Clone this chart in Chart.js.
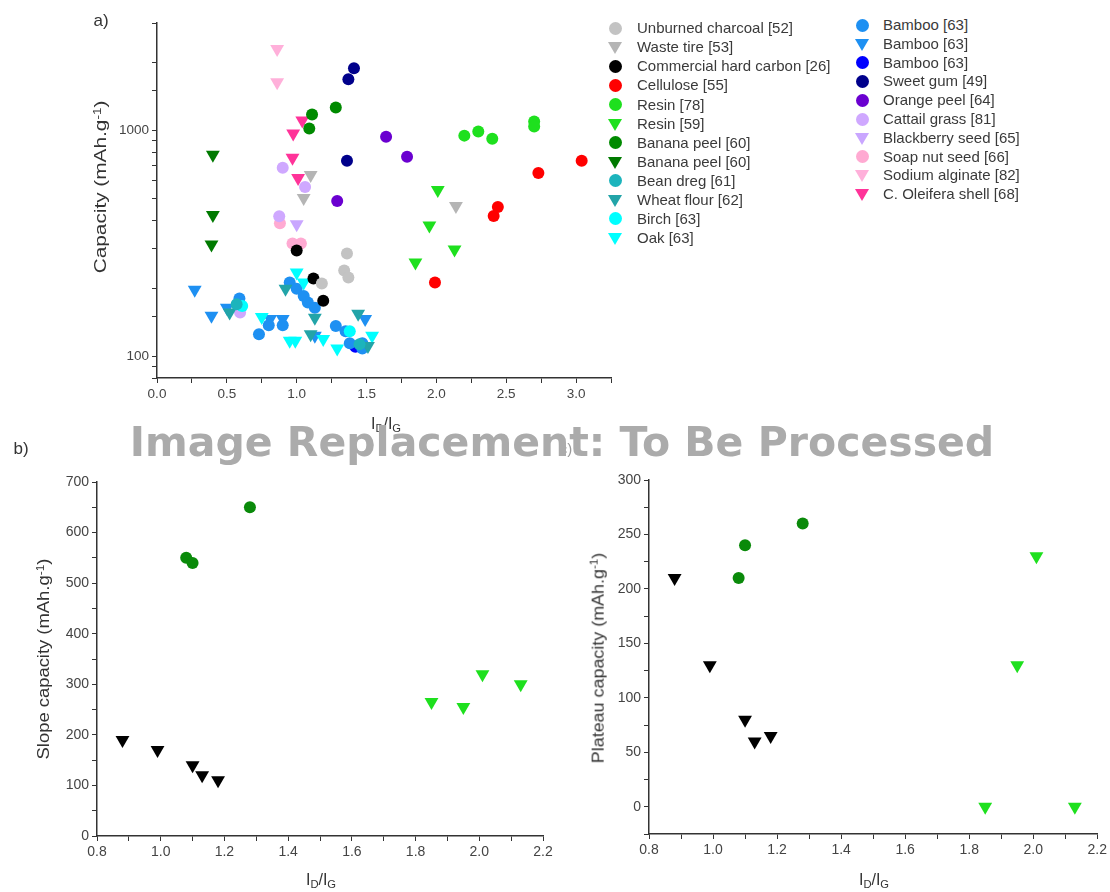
<!DOCTYPE html>
<html><head><meta charset="utf-8">
<script src="https://cdn.jsdelivr.net/npm/chart.js@4.4.1/dist/chart.umd.min.js"></script>
<style>
html,body{margin:0;padding:0;background:#fff}
body{position:relative;width:1110px;height:892px;overflow:hidden;font-family:"Liberation Sans",Arial,sans-serif;color:#333}
canvas{position:absolute}
.t{position:absolute;white-space:nowrap;line-height:1}
.lg{position:absolute;white-space:nowrap;font-size:15px;line-height:15px;color:#3a3a3a}
.mk{position:absolute}
sub{font-size:70%;vertical-align:-0.25em}
sup{font-size:65%;vertical-align:0.55em}
</style></head>
<body>
<canvas id="cA" width="620" height="440" style="left:0;top:0"></canvas>
<canvas id="cB" width="560" height="452" style="left:0;top:440px"></canvas>
<canvas id="cC" width="550" height="452" style="left:560px;top:440px"></canvas>
<div id="legend"></div>
<div id="texts"></div>
<script>
// ---------- data: panel a (I_D/I_G, capacity mAh/g) ----------
const unburnedCharcoal = [[1.36,285],[1.34,240],[1.37,223],[1.18,210]];
const wasteTire = [[1.10,636],[1.05,502],[2.14,463]];
const commercialHardCarbon = [[1.00,294],[1.12,221],[1.19,176]];
const cellulose = [[3.04,735],[2.73,649],[2.44,458],[2.41,418],[1.99,212]];
const resin78 = [[2.20,950],[2.30,990],[2.40,921],[2.70,1097],[2.70,1042]];
const resin59 = [[2.01,545],[1.95,380],[2.13,297],[1.85,260]];
const bananaPeelCircle = [[1.11,1179],[1.28,1267],[1.09,1021]];
const bananaPeelTriangle = [[0.40,781],[0.40,422],[0.39,313]];
const beanDreg = [[0.57,170],[1.45,113]];
const wheatFlour = [[0.52,156],[0.92,199],[1.13,148],[1.44,154],[1.51,111],[1.10,125]];
const birch = [[0.61,167],[1.38,129]];
const oak = [[0.75,149],[1.00,235],[1.05,212],[0.99,117],[1.19,119],[1.29,108],[1.54,123],[0.95,117]];
const bambooCircle = [[0.59,180],[0.73,125],[0.80,137],[0.90,137],[0.95,212],[1.00,199],[1.05,185],[1.08,173],[1.13,164],[1.28,136],[1.35,129],[1.38,114],[1.47,114],[1.47,108]];
const bambooTriangle = [[0.27,197],[0.39,151],[0.50,164],[0.81,146],[0.90,146],[1.13,123],[1.49,146]];
const bambooBlue = [[1.42,110]];
const sweetGum = [[1.41,1892],[1.37,1690],[1.36,735]];
const orangePeel = [[1.64,940],[1.79,765],[1.29,487]];
const cattailGrass = [[0.90,684],[1.06,562],[0.875,417],[0.595,156]];
const blackberrySeed = [[1.00,384]];
const soapNutSeed = [[0.88,388],[0.97,316],[1.03,316]];
const sodiumAlginate = [[0.86,2299],[0.86,1638]];
const oleiferaShell = [[1.04,1108],[0.975,970],[0.97,758],[1.01,617]];

const seriesNames = ['Unburned charcoal [52]','Waste tire [53]','Commercial hard carbon [26]','Cellulose [55]','Resin [78]','Resin [59]','Banana peel [60]','Banana peel [60]','Bean dreg [61]','Wheat flour [62]','Birch [63]','Oak [63]','Bamboo [63]','Bamboo [63]','Bamboo [63]','Sweet gum [49]','Orange peel [64]','Cattail grass [81]','Blackberry seed [65]','Soap nut seed [66]','Sodium alginate [82]','C. Oleifera shell [68]'];
const seriesPoints = [unburnedCharcoal,wasteTire,commercialHardCarbon,cellulose,resin78,resin59,bananaPeelCircle,bananaPeelTriangle,beanDreg,wheatFlour,birch,oak,bambooCircle,bambooTriangle,bambooBlue,sweetGum,orangePeel,cattailGrass,blackberrySeed,soapNutSeed,sodiumAlginate,oleiferaShell];

// ---------- data: panels b, c ----------
const slopeHardCarbon = [[0.88,190],[0.99,170],[1.10,140],[1.13,120],[1.18,110]];
const slopeBananaPeel = [[1.08,550],[1.10,540],[1.28,650]];
const slopeResin = [[1.85,265],[1.95,255],[2.01,320],[2.13,300]];
const plateauHardCarbon = [[0.88,210],[0.99,130],[1.10,80],[1.13,60],[1.18,65]];
const plateauBananaPeel = [[1.08,210],[1.10,240],[1.28,260]];
const plateauResin = [[1.85,0],[1.95,130],[2.01,230],[2.13,0]];

// ---------- styles ----------
const seriesColors = ['#c3c3c3','#b5b5b5','#000000','#ff0000','#1ee01e','#1ee01e','#008a00','#007a00','#1cb4bc','#22a4a8','#00ffff','#00ffff','#1e90f2','#1e90f2','#0000ff','#00008b','#6a00d0','#cfa8ff','#c9a6ff','#ffaad2','#ffb0da','#ff3399'];
const seriesShapes = ['c','t','c','c','c','t','c','t','c','t','c','t','c','t','c','c','c','c','t','c','t','t'];

const AX = '#333';
function toXY(arr){ return arr.map(p => ({x:p[0], y:p[1]})); }
function ds(label, arr, color, shape){
  return {label, data: toXY(arr), backgroundColor: color, borderColor: color, borderWidth: 0,
    pointStyle: shape==='c' ? 'circle' : 'triangle', pointRotation: shape==='c' ? 0 : 180,
    pointRadius: shape==='c' ? 6 : 8, pointHoverRadius: shape==='c' ? 6 : 8};
}
const common = {responsive:false, animation:false, events:[],
  plugins:{legend:{display:false}, tooltip:{enabled:false}}};
function axisStyle(){
  return {grid:{drawOnChartArea:false, drawTicks:true, tickLength:5, color:AX, tickColor:AX},
    border:{display:true, color:AX, width:1.5}};
}

// Panel a
new Chart(document.getElementById('cA'), {
  type:'scatter',
  data:{datasets: seriesPoints.map((p,i)=>ds(seriesNames[i], p, seriesColors[i], seriesShapes[i]))},
  options:Object.assign({}, common, {
    layout:{padding:{top:23, right:9, left:0, bottom:0}},
    scales:{
      x:Object.assign(axisStyle(), {type:'linear', min:0, max:3.25,
        afterFit:s=>{s.height=62;},
        ticks:{stepSize:0.25, autoSkip:false, maxRotation:0, color:'#444', font:{size:13.5, family:'Liberation Sans'}, padding:3,
          callback:v=>Math.abs(v*2-Math.round(v*2))<1e-6 ? v.toFixed(1) : ''}}),
      y:Object.assign(axisStyle(), {type:'logarithmic', min:80, max:3000,
        afterFit:s=>{s.width=157;},
        ticks:{autoSkip:false, color:'#444', font:{size:13.5, family:'Liberation Sans'}, padding:3,
          callback:v=>(v===100||v===1000) ? String(v) : ''}})
    }
  })
});

function bottomChart(id, sets, yMin, yMax, yStep, yLabelStep, yWidth, xHeight, padTop, padRight){
  return new Chart(document.getElementById(id), {
    type:'scatter',
    data:{datasets: sets},
    options:Object.assign({}, common, {
      layout:{padding:{top:padTop, right:padRight, left:0, bottom:0}},
      scales:{
        x:Object.assign(axisStyle(), {type:'linear', min:0.8, max:2.2,
          afterFit:s=>{s.height=xHeight;},
          ticks:{stepSize:0.1, autoSkip:false, maxRotation:0, color:'#444', font:{size:14, family:'Liberation Sans'}, padding:3,
            callback:v=>Math.round(v*10)%2===0 ? v.toFixed(1) : ''}}),
        y:Object.assign(axisStyle(), {type:'linear', min:yMin, max:yMax,
          afterFit:s=>{s.width=yWidth;},
          ticks:{stepSize:yStep, autoSkip:false, color:'#444', font:{size:14, family:'Liberation Sans'}, padding:3,
            callback:v=>(v>=0 && Math.round(v)%yLabelStep===0) ? String(Math.round(v)) : ''}})
      }
    })
  });
}
bottomChart('cB', [
  ds('Hard carbon', slopeHardCarbon, '#000000', 't'),
  ds('Banana peel', slopeBananaPeel, '#0a8a0a', 'c'),
  ds('Resin', slopeResin, '#1ee01e', 't')
], 0, 700, 50, 100, 97, 56, 42, 17);
bottomChart('cC', [
  ds('Hard carbon', plateauHardCarbon, '#000000', 't'),
  ds('Banana peel', plateauBananaPeel, '#0a8a0a', 'c'),
  ds('Resin', plateauResin, '#1ee01e', 't')
], -25, 300, 25, 50, 89, 58, 40, 12);

// ---------- legend (built from series) ----------
const lg = document.getElementById('legend');
seriesNames.forEach((name,i)=>{
  const col = i < 12 ? 0 : 1;
  const row = col===0 ? i : i-12;
  const cy = col===0 ? 28.3 + row*19.05 : 25 + row*18.8;
  const mx = col===0 ? 615 : 862;
  const tx = col===0 ? 637 : 883;
  const m = document.createElement('div');
  m.className='mk';
  if (seriesShapes[i]==='c'){
    m.style.cssText = `left:${mx-6.5}px;top:${cy-6.5}px;width:13px;height:13px;border-radius:50%;background:${seriesColors[i]}`;
  } else {
    m.style.cssText = `left:${mx-7}px;top:${cy-5}px;width:0;height:0;border-left:7px solid transparent;border-right:7px solid transparent;border-top:12px solid ${seriesColors[i]}`;
  }
  lg.appendChild(m);
  const t = document.createElement('div');
  t.className='lg';
  t.style.left = tx+'px'; t.style.top = (cy-8)+'px';
  t.textContent = name;
  lg.appendChild(t);
});

// ---------- texts ----------
const tx = document.getElementById('texts');
function addText(html, cx, cy, size, extra){
  const d = document.createElement('div');
  d.className='t';
  d.innerHTML = html;
  d.style.left = cx+'px'; d.style.top = cy+'px';
  d.style.fontSize = size+'px';
  d.style.transform = 'translate(-50%,-50%)' + (extra||'');
  tx.appendChild(d);
  return d;
}
addText('a)', 101, 20, 17);
addText('b)', 21, 448, 17);
addText('Capacity (mAh.g<sup>-1</sup>)', 101, 187, 16, ' rotate(-90deg) scaleX(1.3)');
addText('I<sub>D</sub>/I<sub>G</sub>', 386, 425, 16);
addText('Slope capacity (mAh.g<sup>-1</sup>)', 44, 659, 16, ' rotate(-90deg) scaleX(1.15)');
addText('I<sub>D</sub>/I<sub>G</sub>', 321, 881, 16);
addText('Plateau capacity (mAh.g<sup>-1</sup>)', 598, 658, 16, ' rotate(-90deg) scaleX(1.12)');
addText('I<sub>D</sub>/I<sub>G</sub>', 874, 881, 16);
const c = addText('c)', 566, 448, 15); c.style.color = '#999';
const ov = addText('Image Replacement: To Be Processed', 562, 442, 41);
ov.style.fontFamily = '"DejaVu Sans", sans-serif';
ov.style.fontWeight = 'bold';
ov.style.color = '#ababab';
</script>
</body></html>
